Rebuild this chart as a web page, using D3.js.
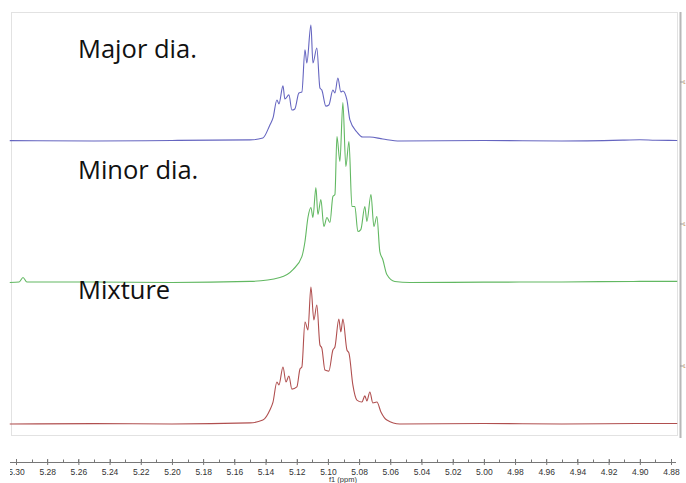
<!DOCTYPE html>
<html><head><meta charset="utf-8">
<script src="https://cdn.jsdelivr.net/npm/d3@7/dist/d3.min.js"></script>
<style>body{margin:0;background:#fff;}svg{display:block;}</style>
</head><body>
<svg id="c" width="686" height="483"></svg>
<script>
// ---------- data (ppm, relative intensity; 100 = tallest peak) ----------
const traceNames = ["Major dia.", "Minor dia.", "Mixture"];
const traceColors = ["#6565c0", "#62b862", "#b04f4f"];

const majorPpm = [5.304,5.250,5.200,5.150,5.1417,5.1372,5.1352,5.1327,5.1314,5.1288,5.1276,5.1250,5.1231,5.1212,5.1186,5.1167,5.1147,5.1135,5.1109,5.1096,5.1071,5.1051,5.1039,5.1013,5.0994,5.0968,5.0955,5.0936,5.0917,5.0904,5.0878,5.0859,5.0814,5.0776,5.0731,5.0648,5.0539,5.000,4.950,4.910,4.900,4.890,4.876];
const majorInt = [0.2,0.0,0.3,0.6,1.7,8.9,12.8,22.8,20.6,30.6,23.3,25.6,17.2,17.8,26.7,27.2,50.6,43.3,64.4,43.3,51.7,29.4,28.3,19.4,20.0,28.3,26.7,35.0,27.2,27.8,22.8,11.7,5.0,2.2,2.2,1.1,0.0,0.3,0.0,0.5,0.7,0.4,0.3];

const minorPpm = [5.304,5.298,5.2955,5.293,5.250,5.200,5.150,5.1308,5.1224,5.1167,5.1147,5.1128,5.1109,5.1096,5.1077,5.1064,5.1045,5.1026,5.1006,5.0987,5.0968,5.0955,5.0942,5.0923,5.0904,5.0885,5.0865,5.0846,5.0827,5.0808,5.0789,5.0763,5.0750,5.0724,5.0705,5.0686,5.0667,5.0648,5.0622,5.0571,5.0474,5.000,4.950,4.900,4.876];
const minorInt = [0.0,0.3,2.8,0.3,0.3,0.0,0.6,2.8,7.2,14.4,22.8,36.1,41.7,36.1,52.8,37.8,46.1,31.1,36.1,33.3,47.8,48.9,81.1,67.2,100,64.4,78.3,42.2,42.2,28.3,29.4,42.2,33.9,48.9,31.1,36.7,17.2,12.8,4.4,0.6,0.0,0.2,0.3,0.6,0.6];

const mixPpm = [5.304,5.250,5.200,5.150,5.1417,5.1372,5.1352,5.1327,5.1314,5.1288,5.1269,5.1250,5.1231,5.1199,5.1179,5.1167,5.1147,5.1128,5.1109,5.1090,5.1071,5.1051,5.1039,5.1019,5.0994,5.0968,5.0955,5.0930,5.0917,5.0904,5.0878,5.0865,5.0840,5.0814,5.0782,5.0763,5.0750,5.0731,5.0712,5.0686,5.0660,5.0622,5.0539,5.000,4.950,4.900,4.876];
const mixInt = [0.0,0.2,0.0,0.6,2.2,7.8,12.2,23.3,21.7,31.7,23.3,26.7,19.4,20.6,30.6,31.7,56.7,52.2,76.1,57.8,66.1,43.9,42.2,30.0,29.4,41.1,42.8,58.3,51.1,58.3,41.1,39.4,21.7,13.3,12.2,15.6,12.8,17.8,11.7,12.2,6.7,2.2,0.0,0.3,0.0,0.3,0.3];

const ppmTicks = d3.range(0, 22).map(i => +(5.30 - i * 0.02).toFixed(2));
const ppmMinor = d3.range(0, 43).map(i => +(5.30 - i * 0.01).toFixed(2));
const axisTitle = "f1 (ppm)";

// ---------- layout ----------
const svg = d3.select("#c");
const x = d3.scaleLinear().domain([5.30, 4.88]).range([16, 671]);
const baseY = d3.scaleLinear().domain([0, 2]).range([141, 424]);
const h = d3.scaleLinear().domain([0, 100]).range([0, 180]);

// frame
svg.append("rect").attr("x", 11.5).attr("y", 12.5).attr("width", 666).attr("height", 423)
  .attr("fill", "none").attr("stroke", "#e2e2e2").attr("stroke-width", 1);

// right-side intensity axis stub
svg.append("line").attr("x1", 680.5).attr("x2", 680.5).attr("y1", 12).attr("y2", 438)
  .attr("stroke", "#b8b8b8").attr("stroke-width", 2);
[82, 224, 366].forEach(yy => {
  svg.append("line").attr("x1", 680).attr("x2", 684).attr("y1", yy).attr("y2", yy)
    .attr("stroke", "#999").attr("stroke-width", 1);
  svg.append("text").attr("x", 683).attr("y", yy + 2).attr("font-size", 5)
    .attr("font-family", "Liberation Sans, sans-serif").attr("fill", "#c89a60").text("1");
});

// traces
const traces = [[majorPpm, majorInt], [minorPpm, minorInt], [mixPpm, mixInt]];
traces.forEach(([p, v], i) => {
  const pts = p.map((pp, k) => [pp, v[k]]);
  const line = d3.line()
    .x(d => x(d[0]))
    .y(d => baseY(i) - h(d[1]))
    .curve(d3.curveMonotoneX);
  svg.append("path").datum(pts).attr("d", line)
    .attr("fill", "none").attr("stroke", traceColors[i]).attr("stroke-width", 1.1)
    .attr("stroke-linejoin", "round");
});

// labels
const labelY = [58, 179, 299];
traceNames.forEach((t, i) => {
  svg.append("text").attr("x", 78).attr("y", labelY[i]).text(t)
    .attr("font-family", "'Open Sans', Lato, sans-serif").attr("font-size", 25.5).attr("fill", "#111");
});

// bottom axis
svg.append("defs").append("clipPath").attr("id", "ax").append("rect")
  .attr("x", 10).attr("y", 440).attr("width", 676).attr("height", 50);
const g = svg.append("g").attr("clip-path", "url(#ax)");
g.append("line").attr("x1", 5).attr("x2", 676).attr("y1", 462.5).attr("y2", 462.5)
  .attr("stroke", "#777").attr("stroke-width", 1);
ppmMinor.forEach(t => {
  g.append("line").attr("x1", Math.round(x(t)) + 0.5).attr("x2", Math.round(x(t)) + 0.5)
    .attr("y1", 459.5).attr("y2", 462.5).attr("stroke", "#777");
});
const axis = d3.axisBottom(x).tickValues(ppmTicks).tickSize(3).tickPadding(4)
  .tickFormat(d3.format(".2f"));
const ag = g.append("g").attr("transform", "translate(0,462)").call(axis);
ag.select(".domain").remove();
ag.selectAll(".tick line").attr("stroke", "#777").attr("y1", -3);
ag.selectAll(".tick text").attr("font-family", "Liberation Sans, sans-serif")
  .attr("font-size", 8.5).attr("fill", "#333");
svg.append("text").attr("x", 343).attr("y", 482).attr("text-anchor", "middle")
  .attr("font-family", "Liberation Sans, sans-serif").attr("font-size", 7.5).attr("fill", "#333")
  .text(axisTitle);
</script>
</body></html>
